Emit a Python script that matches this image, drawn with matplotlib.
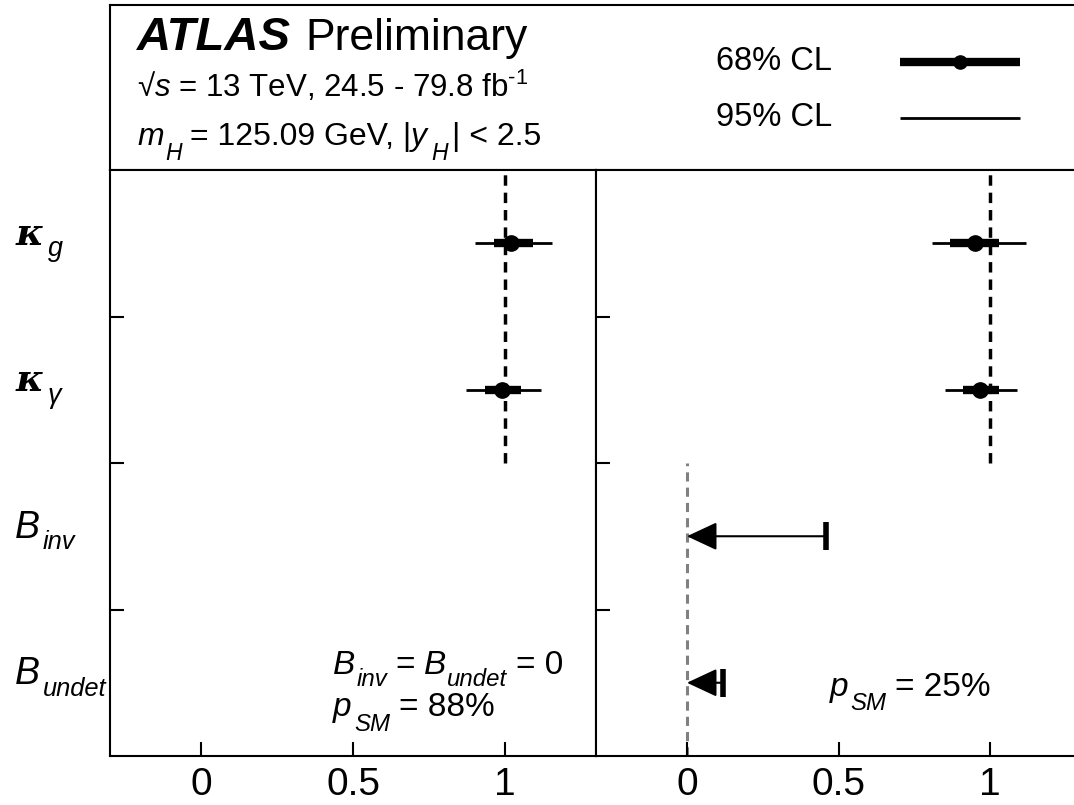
import numpy as np
import matplotlib
matplotlib.use("Agg")
from matplotlib import pyplot as plt

plt.rcParams['font.family'] = ['Liberation Sans', 'DejaVu Sans']
plt.rcParams['mathtext.fontset'] = 'custom'
plt.rcParams['mathtext.rm'] = 'Liberation Sans'
plt.rcParams['mathtext.it'] = 'Liberation Sans:italic'
plt.rcParams['mathtext.bf'] = 'Liberation Sans:bold'

# rows, top to bottom: (main symbol, subscript)
row_labels = [(u'\u03ba', 'g'), (u'\u03ba', u'\u03b3'), ('B', 'inv'), ('B', 'undet')]
row_pos = [4, 3, 2, 1]
tick_vals = [0, 0.5, 1]

# left panel: B_inv = B_undet = 0
left_best = [1.02, 0.99]
left_lo68 = [0.964, 0.934]
left_hi68 = [1.092, 1.053]
left_lo95 = [0.900, 0.872]
left_hi95 = [1.155, 1.120]

# right panel: B_inv, B_undet free
right_best = [0.95, 0.967]
right_lo68 = [0.868, 0.910]
right_hi68 = [1.030, 1.030]
right_lo95 = [0.810, 0.850]
right_hi95 = [1.120, 1.090]
br_limits = [0.46, 0.12]   # 95% CL upper limits on B_inv, B_undet

W, H = 1074, 805
fig = plt.figure(figsize=(W/100, H/100), dpi=100)

def px(x0, y0, x1, y1):
    return [x0/W, 1 - y1/H, (x1-x0)/W, (y1-y0)/H]

ax_top = fig.add_axes(px(110, 5, 1081, 170))
axL = fig.add_axes(px(110, 170, 596, 756))
axR = fig.add_axes(px(596, 170, 1081, 756))

for a in (ax_top, axL, axR):
    for s in a.spines.values():
        s.set_linewidth(1.5)


def rich(ax, x, y, parts, size, transform=None, sub_drop=-8, sub_scale=0.72, **extra):
    """ROOT-like text: parts = [(text, kind, gap_pts)], kind n/i/k/s (sub, italic)."""
    if transform is None:
        transform = ax.transData
    first = None
    prev = None
    for txt, kind, gap in parts:
        kw = dict(fontsize=size, fontstyle='normal', fontweight='normal')
        if kind in 'is':
            kw['fontstyle'] = 'italic'
        if kind == 'k':
            kw.update(extra)
        if kind == 's':
            kw['fontsize'] = size * sub_scale
        dy = sub_drop if kind == 's' else 0
        if first is None:
            t = ax.text(x, y, txt, transform=transform, va='baseline', ha='left', **kw)
            first = t
        else:
            t = ax.annotate(txt, xy=(1, 0), xycoords=(prev, first),
                            xytext=(gap, dy), textcoords='offset points',
                            va='bottom', ha='left', **kw)
        prev = t
    return first


# header box (pixel-like coordinates)
ax_top.set_xlim(110, 1081)
ax_top.set_ylim(170, 5)
ax_top.set_xticks([])
ax_top.set_yticks([])
ax_top.text(137, 50, 'ATLAS', fontsize=34, fontweight='bold', fontstyle='italic', va='baseline')
ax_top.text(305, 50, 'Preliminary', fontsize=32, va='baseline')
ax_top.text(137, 97, u'\u221a$s$ = 13 TeV, 24.5 - 79.8 fb$^{\\text{-1}}$', fontsize=22.5, va='baseline')
rich(ax_top, 137, 145, [('m', 'i', 0), ('H', 's', 1), ('= 125.09 GeV, |', 'n', 6),
                        ('y', 'i', 0), ('H', 's', 3), ('| < 2.5', 'n', 3)], 23, sub_drop=-9)
ax_top.text(716, 62, '68% CL', fontsize=23.5, va='center')
ax_top.text(716, 118, '95% CL', fontsize=23.5, va='center')
ax_top.plot([900, 1020], [62, 62], color='k', lw=6, solid_capstyle='butt')
ax_top.plot([960], [62], 'o', color='k', ms=9.5)
ax_top.plot([900, 1020], [118, 118], color='k', lw=2, solid_capstyle='butt')


def style(ax):
    ax.set_xlim(-0.3, 1.3)
    ax.set_ylim(0.5, 4.5)
    ax.set_xticks(tick_vals)
    ax.set_xticklabels(['0', '0.5', '1'])
    ax.set_yticks([1.5, 2.5, 3.5])
    ax.set_yticklabels([])
    ax.tick_params(axis='both', direction='in', length=10, width=1.5, labelsize=28)
    ax.tick_params(axis='x', pad=8)
    ax.tick_params(right=False, top=False)

style(axL)
style(axR)


def draw_kappas(ax, best, lo68, hi68, lo95, hi95):
    y = np.array(row_pos[:2], dtype=float)
    best = np.array(best)
    ax.errorbar(best, y, xerr=[best - np.array(lo95), np.array(hi95) - best],
                fmt='none', ecolor='k', elinewidth=2, capsize=0, zorder=3)
    ax.errorbar(best, y, xerr=[best - np.array(lo68), np.array(hi68) - best],
                fmt='o', color='k', ms=11, elinewidth=6, capsize=0, zorder=4)

# SM reference lines
for ax in (axL, axR):
    ax.plot([1, 1], [2.5, 4.5], color='k', lw=2.5, ls=(0, (3, 2)), zorder=1)
axR.plot([0, 0], [0.5, 2.5], color='#808080', lw=2.2, ls=(0, (3, 2)), zorder=1)

draw_kappas(axL, left_best, left_lo68, left_hi68, left_lo95, left_hi95)
draw_kappas(axR, right_best, right_lo68, right_hi68, right_lo95, right_hi95)

for lim, y in zip(br_limits, row_pos[2:]):
    axR.annotate('', xy=(0, y), xytext=(lim, y),
                 arrowprops=dict(arrowstyle='-|>,head_length=0.75,head_width=0.35',
                                 lw=1.5, color='k', mutation_scale=25,
                                 shrinkA=0, shrinkB=0))
    axR.plot([lim], [y], marker='|', color='k', ms=20, mew=4)

# row labels
ytr = axL.get_yaxis_transform()
for (sym, sub), y in zip(row_labels, row_pos):
    if sym == 'B':
        rich(axL, -0.195, y - 0.01, [(sym, 'i', 0), (sub, 's', 2)], 27,
             transform=ytr, sub_drop=-6, sub_scale=0.68)
    else:
        rich(axL, -0.195, y - 0.01, [(sym, 'k', 0), (sub, 's', 3)], 27,
             transform=ytr, sub_drop=-7, sub_scale=0.72,
             family='DejaVu Serif', fontweight='bold', fontstyle='italic')

rich(axL, 0.434, 1.06, [('B', 'i', 0), ('inv', 's', 1), ('=', 'n', 6),
                        ('B', 'i', 6), ('undet', 's', 1), ('= 0', 'n', 6)], 24, sub_drop=-7)
rich(axL, 0.434, 0.77, [('p', 'i', 0), ('SM', 's', 2), ('= 88%', 'n', 6)], 24, sub_drop=-9)
rich(axR, 0.47, 0.91, [('p', 'i', 0), ('SM', 's', 2), ('= 25%', 'n', 6)], 24, sub_drop=-9)

fig.savefig('out.png', dpi=100)
